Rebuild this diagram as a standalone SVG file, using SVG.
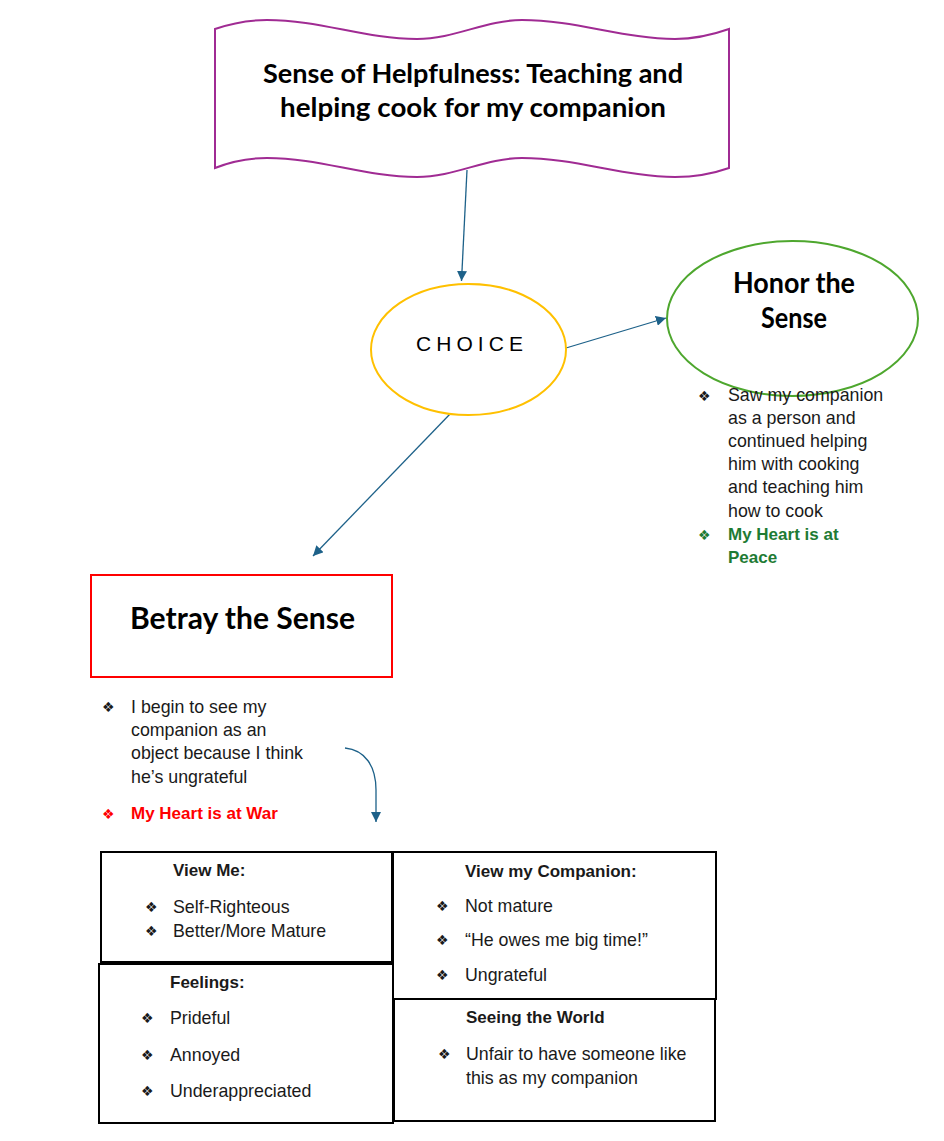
<svg xmlns="http://www.w3.org/2000/svg" width="944" height="1141" viewBox="0 0 944 1141">
  <defs>
    <marker id="arrow" viewBox="0 0 10 10" refX="10" refY="5" markerWidth="10" markerHeight="10" markerUnits="userSpaceOnUse" orient="auto">
      <path d="M0,0 L10,5 L0,10 Z" fill="#1d6189"/>
    </marker>
    <style>
      .conn { fill: none; stroke: #1d6189; stroke-width: 1.3; marker-end: url(#arrow); }
      .head { font-family: "Lato", "Open Sans", sans-serif; font-weight: bold; fill: #000; }
      .body { font-family: "Liberation Sans", Arial, sans-serif; font-size: 17.8px; fill: #1a1a1a; }
      .bold { font-weight: bold; font-size: 17px; }
      .bul { font-family: "DejaVu Sans", sans-serif; font-size: 14px; }
      .box { fill: #fff; stroke: #000; stroke-width: 2; }
    </style>
  </defs>

  <rect width="944" height="1141" fill="#fff"/>

  <!-- connectors -->
  <g id="connectors">
    <line class="conn" x1="467" y1="170" x2="461.5" y2="281"/>
    <line class="conn" x1="566" y1="348" x2="666" y2="318"/>
    <line class="conn" x1="451" y1="413" x2="313" y2="556"/>
    <path class="conn" d="M345,748 C365,750 376,766 376,790 L376,822"/>
  </g>

  <!-- wavy banner -->
  <g id="sense">
    <path d="M215,29 C232,23 250,20 267,20 C320,20 365,39 417,39 C455,39 485,20 522,20 C575,20 625,39 675,39 C695,39 712,35 729,29 L729,168 C712,174 695,177 675,177 C625,177 575,158 522,158 C485,158 455,177 417,177 C365,177 320,158 267,158 C250,158 232,161 215,168 Z" fill="#fff" stroke="#a02b93" stroke-width="2"/>
    <text class="head" font-size="26" x="473" y="83" text-anchor="middle" textLength="420" lengthAdjust="spacingAndGlyphs">Sense of Helpfulness: Teaching and</text>
    <text class="head" font-size="26" x="473" y="117" text-anchor="middle" textLength="386" lengthAdjust="spacingAndGlyphs">helping cook for my companion</text>
  </g>

  <!-- choice -->
  <g id="choice">
    <ellipse cx="468.5" cy="349.5" rx="97.5" ry="65.5" fill="#fff" stroke="#ffc000" stroke-width="2"/>
    <text font-family="'Liberation Sans', Arial, sans-serif" font-size="21" x="416" y="351" textLength="107" lengthAdjust="spacing">CHOICE</text>
  </g>

  <!-- honor -->
  <g id="honor">
    <ellipse cx="792.5" cy="318.5" rx="125.5" ry="77.5" fill="#fff" stroke="#4ea72e" stroke-width="2"/>
    <text class="head" font-size="29" x="794" y="293" text-anchor="middle" textLength="122" lengthAdjust="spacingAndGlyphs">Honor the</text>
    <text class="head" font-size="29" x="794" y="328" text-anchor="middle" textLength="66" lengthAdjust="spacingAndGlyphs">Sense</text>
  </g>

  <g id="honor-notes" class="body">
    <text class="bul" x="698" y="401">❖</text>
    <text x="728" y="401">Saw my companion</text>
    <text x="728" y="424">as a person and</text>
    <text x="728" y="447">continued helping</text>
    <text x="728" y="470">him with cooking</text>
    <text x="728" y="493">and teaching him</text>
    <text x="728" y="517">how to cook</text>
    <text class="bul" x="698" y="540" fill="#1e7b34">❖</text>
    <text class="bold" x="728" y="540" fill="#1e7b34">My Heart is at</text>
    <text class="bold" x="728" y="563" fill="#1e7b34">Peace</text>
  </g>

  <!-- betray -->
  <g id="betray">
    <rect x="91" y="575" width="301" height="102" fill="#fff" stroke="#ff0000" stroke-width="2"/>
    <text class="head" font-size="30" x="242.5" y="629" text-anchor="middle" textLength="225" lengthAdjust="spacingAndGlyphs">Betray the Sense</text>
  </g>

  <g id="betray-notes" class="body">
    <text class="bul" x="102" y="712">❖</text>
    <text x="131" y="713">I begin to see my</text>
    <text x="131" y="736">companion as an</text>
    <text x="131" y="759">object because I think</text>
    <text x="131" y="783">he’s ungrateful</text>
    <text class="bul" x="102" y="819" fill="#ff0000">❖</text>
    <text class="bold" x="131" y="819" fill="#ff0000">My Heart is at War</text>
  </g>

  <!-- view me -->
  <g id="view-me" class="body">
    <rect class="box" x="101" y="852" width="291" height="110"/>
    <text class="bold" font-size="16.5" x="173" y="876">View Me:</text>
    <text class="bul" x="145" y="912">❖</text>
    <text x="173" y="913">Self-Righteous</text>
    <text class="bul" x="145" y="936">❖</text>
    <text x="173" y="937">Better/More Mature</text>
  </g>

  <!-- feelings -->
  <g id="feelings" class="body">
    <rect class="box" x="99" y="964" width="294" height="159"/>
    <text class="bold" font-size="16.5" x="170" y="988">Feelings:</text>
    <text class="bul" x="141" y="1023">❖</text>
    <text x="170" y="1024">Prideful</text>
    <text class="bul" x="141" y="1060">❖</text>
    <text x="170" y="1061">Annoyed</text>
    <text class="bul" x="141" y="1096">❖</text>
    <text x="170" y="1097">Underappreciated</text>
  </g>

  <!-- view my companion -->
  <g id="view-companion" class="body">
    <rect class="box" x="393" y="852" width="323" height="147"/>
    <text class="bold" font-size="16.5" x="465" y="877">View my Companion:</text>
    <text class="bul" x="436" y="911">❖</text>
    <text x="465" y="912">Not mature</text>
    <text class="bul" x="436" y="945">❖</text>
    <text x="465" y="946">“He owes me big time!”</text>
    <text class="bul" x="436" y="980">❖</text>
    <text x="465" y="981">Ungrateful</text>
  </g>

  <!-- seeing the world -->
  <g id="seeing-world" class="body">
    <rect class="box" x="394" y="999" width="321" height="122"/>
    <text class="bold" font-size="16.5" x="466" y="1023">Seeing the World</text>
    <text class="bul" x="438" y="1059">❖</text>
    <text x="466" y="1060">Unfair to have someone like</text>
    <text x="466" y="1084">this as my companion</text>
  </g>
</svg>
